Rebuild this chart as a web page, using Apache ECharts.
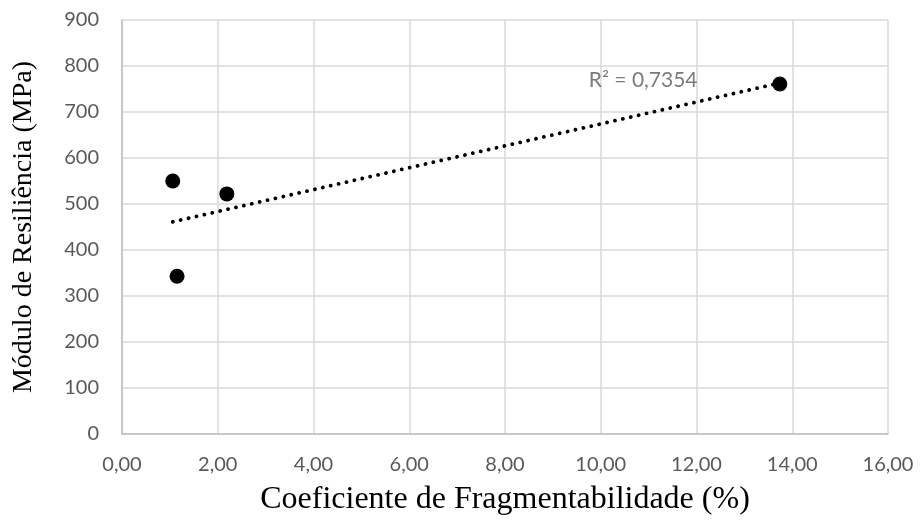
<!DOCTYPE html>
<html><head><meta charset="utf-8">
<script src="https://cdn.jsdelivr.net/npm/echarts@6/dist/echarts.min.js"></script>
<style>html,body{margin:0;padding:0;background:#fff}#c{width:920px;height:527px}</style>
</head><body><div id="c"></div>
<script>
const xValues = [1.06, 1.15, 2.19, 13.74];
const yValues = [550, 343, 522, 761];
const r2Text = 'R² = 0,7354';
const r2Pos = [9.75, 770];
const xTitle = 'Coeficiente de Fragmentabilidade (%)';
const yTitle = 'Módulo de Resiliência (MPa)';

const n = xValues.length;
const mx = xValues.reduce((a,b)=>a+b,0)/n, my = yValues.reduce((a,b)=>a+b,0)/n;
let sxy=0, sxx=0;
for (let i=0;i<n;i++){sxy+=(xValues[i]-mx)*(yValues[i]-my);sxx+=(xValues[i]-mx)**2;}
const slope = sxy/sxx, icpt = my - slope*mx;
const xmin = Math.min(...xValues), xmax = Math.max(...xValues);
const trend = [[xmin, icpt+slope*xmin],[xmax, icpt+slope*xmax]];

const chart = echarts.init(document.getElementById('c'));
const tickFont = {color:'#595959', fontSize:20, fontFamily:'Lato'};
chart.setOption({
  animation:false,
  grid:{left:122,right:32,top:20,bottom:93},
  xAxis:{type:'value',min:0,max:16,interval:2,
    name:xTitle,nameLocation:'middle',nameGap:50,
    nameTextStyle:{fontFamily:'Liberation Serif',fontSize:32,color:'#000'},
    axisLabel:Object.assign({margin:21,formatter:v=>v.toFixed(2).replace('.',',')},tickFont),
    axisLine:{lineStyle:{color:'#bfbfbf',width:1.5}},axisTick:{show:false},
    splitLine:{lineStyle:{color:'#d9d9d9',width:1.5}}},
  yAxis:{type:'value',min:0,max:900,interval:100,
    name:yTitle,nameLocation:'middle',nameGap:84,
    nameTextStyle:{fontFamily:'Liberation Serif',fontSize:28,color:'#000'},
    axisLabel:Object.assign({margin:23},tickFont),
    axisLine:{show:true,lineStyle:{color:'#bfbfbf',width:1.5}},axisTick:{show:false},
    splitLine:{lineStyle:{color:'#d9d9d9',width:1.5}}},
  series:[
    {type:'line',data:trend,symbol:'none',lineStyle:{color:'#000',width:3.8,type:[0.1,8],cap:'round'},z:2},
    {type:'scatter',data:xValues.map((x,i)=>[x,yValues[i]]),symbolSize:15,itemStyle:{color:'#000',opacity:1},z:3},
    {type:'scatter',data:[r2Pos],symbolSize:0,silent:true,
      label:{show:true,position:'right',distance:0,formatter:r2Text,color:'#595959',fontSize:21,fontFamily:'Lato'}}
  ]
});
</script></body></html>
